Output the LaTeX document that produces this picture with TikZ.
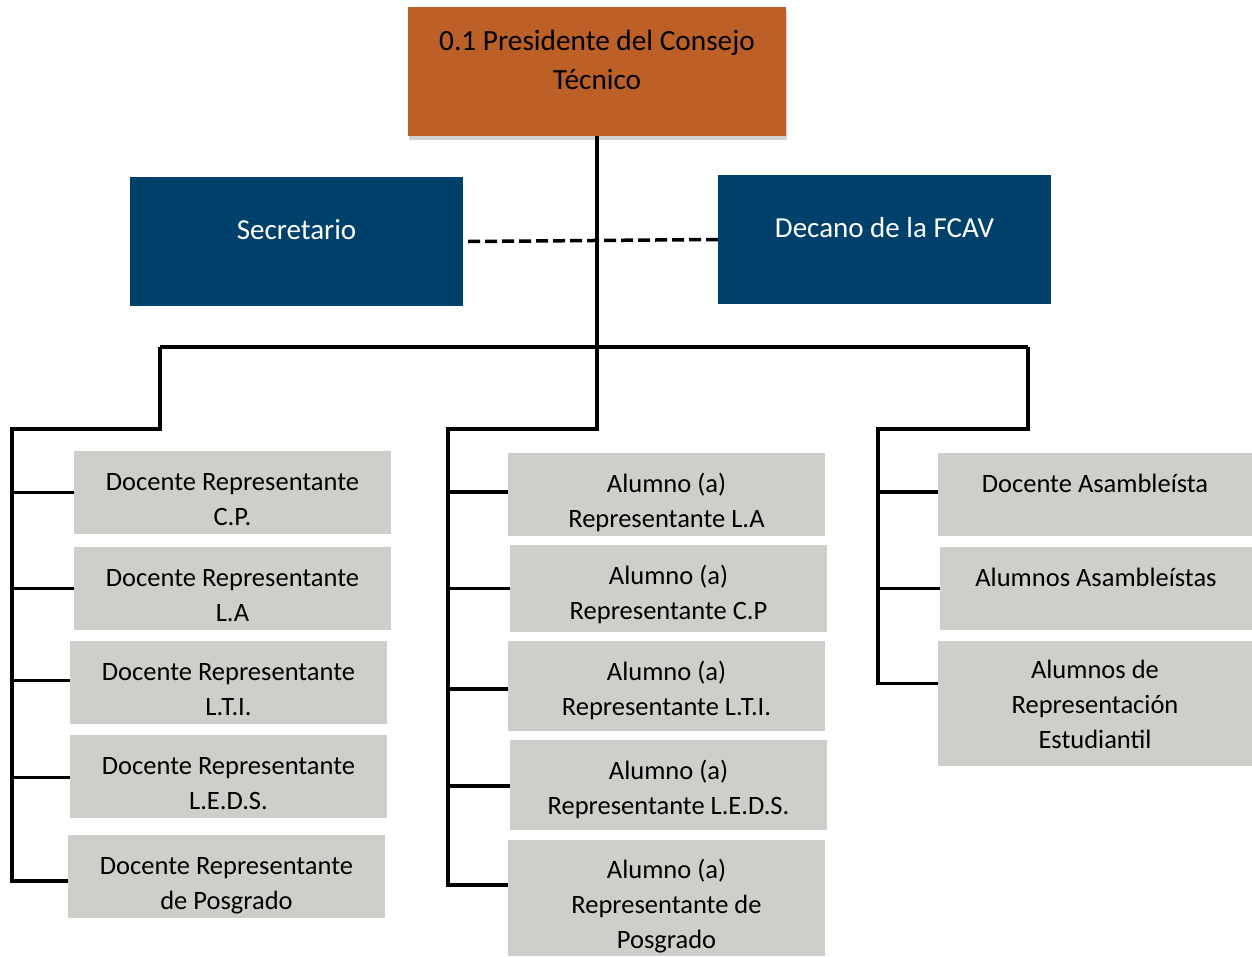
\documentclass[tikz,border=0pt]{standalone}
\usepackage{fontspec}
\setmainfont{Carlito}
\usetikzlibrary{shadows}
\definecolor{orangebox}{RGB}{188,96,39}
\definecolor{bluebox}{RGB}{0,65,107}
\definecolor{graybox}{RGB}{208,206,202}
\begin{document}
\begin{tikzpicture}[x=1pt,y=-1pt,
  conn/.style={line width=3.2pt,line join=miter,draw=black},
  dashconn/.style={line width=3.5pt,dash pattern=on 12pt off 5pt,draw=black},
  graycell/.style={fill=graybox,draw=none,inner sep=0pt},
  bluecell/.style={fill=bluebox,draw=none,inner sep=0pt},
  topcell/.style={fill=orangebox,draw=none,inner sep=0pt,
    drop shadow={shadow xshift=1pt,shadow yshift=-4pt,opacity=0.18,fill=black}},
  gtext/.style={anchor=base,align=center,inner sep=0pt,font=\fontsize{26.5}{35}\selectfont,text=black},
  btext/.style={anchor=base,align=center,inner sep=0pt,font=\fontsize{29}{39}\selectfont,text=white},
  ttext/.style={anchor=base,align=center,inner sep=0pt,font=\fontsize{29.3}{39}\selectfont,text=black}]
\useasboundingbox (0,0) rectangle (1252,956);

% top box
\path[topcell] (408,7) rectangle (786,136);
\node[minimum width=378pt,minimum height=129pt,inner sep=0pt] (top) at (597,71.5) {};
\node[ttext] (topT) at (597,89.5) {0.1 Presidente del Consejo\\Técnico};

% blue boxes
\node[bluecell,minimum width=333pt,minimum height=129pt] (sec) at (296.5,241.5) {};
\node[btext] (secT) at (296.5,239.5) {Secretario};
\node[bluecell,minimum width=333pt,minimum height=129pt] (dec) at (884.5,239.5) {};
\node[btext] (decT) at (884.5,237.5) {Decano de la FCAV};

% left column
\node[graycell,minimum width=317pt,minimum height=83pt] (L1) at (232.5,492.5) {};
\node[gtext] (L1T) at (232.5,525) {Docente Representante\\C.P.};
\node[graycell,minimum width=317pt,minimum height=83pt] (L2) at (232.5,588.5) {};
\node[gtext] (L2T) at (232.5,621) {Docente Representante\\L.A};
\node[graycell,minimum width=317pt,minimum height=83pt] (L3) at (228.5,682.5) {};
\node[gtext] (L3T) at (228.5,715) {Docente Representante\\L.T.I.};
\node[graycell,minimum width=317pt,minimum height=83pt] (L4) at (228.5,776.5) {};
\node[gtext] (L4T) at (228.5,809) {Docente Representante\\L.E.D.S.};
\node[graycell,minimum width=317pt,minimum height=83pt] (L5) at (226.5,876.5) {};
\node[gtext] (L5T) at (226.5,909) {Docente Representante\\de Posgrado};

% middle column
\node[graycell,minimum width=317pt,minimum height=83pt] (M1) at (666.5,494.5) {};
\node[gtext] (M1T) at (666.5,527) {Alumno (a)\\Representante L.A};
\node[graycell,minimum width=317pt,minimum height=87pt] (M2) at (668.5,588.5) {};
\node[gtext] (M2T) at (668.5,619) {Alumno (a)\\Representante C.P};
\node[graycell,minimum width=317pt,minimum height=90pt] (M3) at (666.5,686) {};
\node[gtext] (M3T) at (666.5,715) {Alumno (a)\\Representante L.T.I.};
\node[graycell,minimum width=317pt,minimum height=90pt] (M4) at (668.5,785) {};
\node[gtext] (M4T) at (668.5,814) {Alumno (a)\\Representante L.E.D.S.};
\node[graycell,minimum width=317pt,minimum height=116pt] (M5) at (666.5,898) {};
\node[gtext] (M5T) at (666.5,948) {Alumno (a)\\Representante de\\Posgrado};

% right column
\node[graycell,minimum width=314pt,minimum height=83pt] (R1) at (1095,494.5) {};
\node[gtext] (R1T) at (1095,492.5) {Docente Asambleísta};
\node[graycell,minimum width=312pt,minimum height=83pt] (R2) at (1096,588.5) {};
\node[gtext] (R2T) at (1096,586.5) {Alumnos Asambleístas};
\node[graycell,minimum width=314pt,minimum height=125pt] (R3) at (1095,703.5) {};
\node[gtext] (R3T) at (1095,748.5) {Alumnos de\\Representación\\Estudiantil};

% junction coordinates
\coordinate (jL0) at (160,347);
\coordinate (jR0) at (1028,347);
\coordinate (jL1) at (160,429);
\coordinate (jL2) at (12,429);
\coordinate (jL3) at (12,882.5);
\coordinate (jM1) at (597,429);
\coordinate (jM2) at (448,429);
\coordinate (jM3) at (448,886.5);
\coordinate (jR1) at (1028,429);
\coordinate (jR2) at (878,429);
\coordinate (jR3) at (878,684.5);

% connectors
\draw[dashconn] ([xshift=5pt]sec.east) -- (dec.west);
\draw[conn] (top.south) -- (jM1) -- (jM2) -- (jM3);
\draw[conn] (jL0) -- (jR0);
\draw[conn] (jL0) -- (jL1) -- (jL2) -- (jL3);
\draw[conn] (jR0) -- (jR1) -- (jR2) -- (jR3);

\draw[conn] (L1.west) -- (L1.west -| jL2);
\draw[conn] (L2.west) -- (L2.west -| jL2);
\draw[conn] ([yshift=2pt]L3.west) -- ([yshift=2pt]L3.west -| jL2);
\draw[conn] ([yshift=-1pt]L4.west) -- ([yshift=-1pt]L4.west -| jL2);
\draw[conn] ([yshift=-4.5pt]L5.west) -- ([yshift=-4.5pt]L5.west -| jL2);

\draw[conn] ([yshift=2.5pt]M1.west) -- ([yshift=2.5pt]M1.west -| jM2);
\draw[conn] (M2.west) -- (M2.west -| jM2);
\draw[conn] ([yshift=-3pt]M3.west) -- ([yshift=-3pt]M3.west -| jM2);
\draw[conn] ([yshift=-1pt]M4.west) -- ([yshift=-1pt]M4.west -| jM2);
\draw[conn] ([yshift=13pt]M5.west) -- ([yshift=13pt]M5.west -| jM2);

\draw[conn] ([yshift=2.5pt]R1.west) -- ([yshift=2.5pt]R1.west -| jR2);
\draw[conn] (R2.west) -- (R2.west -| jR2);
\draw[conn] ([yshift=20pt]R3.west) -- ([yshift=20pt]R3.west -| jR2);
\end{tikzpicture}
\end{document}
